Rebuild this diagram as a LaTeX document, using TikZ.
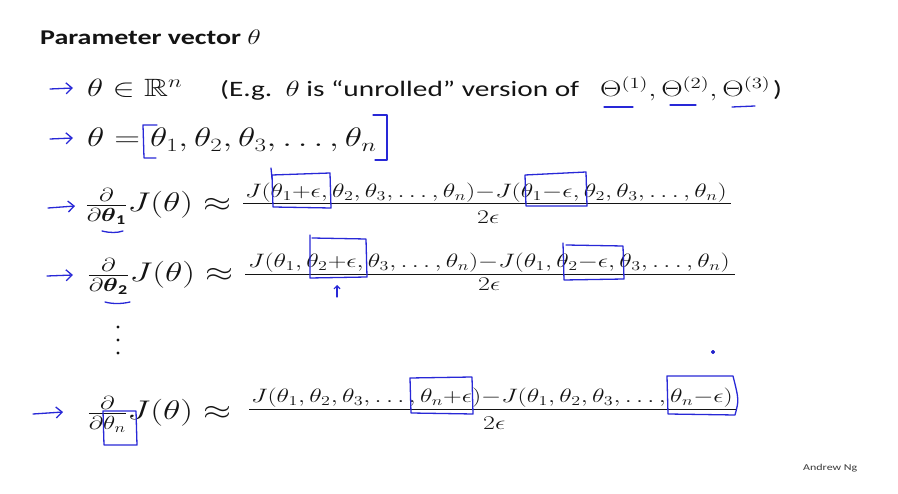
\RequirePackage{fix-cm}
\documentclass[tikz,border=0pt]{standalone}
\usepackage{amsmath,amssymb}
\usepackage{graphicx}
\usepackage{fontspec}
\setmainfont{Carlito}
\usetikzlibrary{arrows.meta}
\definecolor{pen}{RGB}{40,40,215}
\definecolor{ink}{RGB}{20,20,20}
\newcommand\hstretch[1]{\scalebox{1.333}[1]{#1}}
\begin{document}
\begin{tikzpicture}[x=1pt,y=-1pt,
  txt/.style={inner sep=0pt, anchor=base west, text=ink},
  big/.style={font=\fontsize{27}{32}\selectfont},
  mid/.style={font=\fontsize{25}{30}\selectfont},
  sans/.style={font=\fontsize{22}{26}\selectfont},
  num/.style={font=\fontsize{19.4}{22}\selectfont},
  pen/.style={draw=pen, line width=1.3pt, line cap=round, line join=round},
  harrow/.style={pen, -{Straight Barb[length=6pt,width=11pt,line width=1.3pt]}},
  bar/.style={draw=ink, line width=0.9pt}]
\useasboundingbox (0,0) rectangle (898,494);
\fill[white] (0,0) rectangle (898,494);

% title
\node[txt, font=\fontsize{21}{25}\selectfont\bfseries] (title) at (40,45) {\hstretch{Parameter vector $\theta$}};

% row 2
\node[txt, mid] (r2a) at (87,97) {\hstretch{$\theta\in\mathbb{R}^n$}};
\node[txt, sans] (r2b) at (220,97) {\hstretch{(E.g.\ \ $\theta$ is “unrolled” version of}};
\node[txt, font=\fontsize{22.3}{26}\selectfont] (r2c) at (600,97) {\hstretch{$\Theta^{(1)},\Theta^{(2)},\Theta^{(3)}$}};
\node[txt, sans] (r2d) at (773,97) {\hstretch{)}};

% row 3
\node[txt, font=\fontsize{26.8}{30}\selectfont] (r3) at (87,147) {\hstretch{$\theta=\theta_1,\theta_2,\theta_3,\ldots,\theta_n$}};

% row 4
\node[txt, big] (r4l) at (85,212) {\hstretch{$\frac{\partial}{\partial\boldsymbol{\theta}_{\mathbf 1}}J(\theta)\approx$}};
\node[txt, num] (r4n) at (245,198) {\hstretch{$J(\theta_1{+}\epsilon,\theta_2,\theta_3,\ldots,\theta_n){-}J(\theta_1{-}\epsilon,\theta_2,\theta_3,\ldots,\theta_n)$}};
\coordinate (r4a) at (243,203);
\coordinate (r4b) at (731,203);
\draw[bar] (r4a) -- (r4b);
\node[txt, num] (r4d) at (477,224) {\hstretch{$2\epsilon$}};

% row 5
\node[txt, big] (r5l) at (87,282) {\hstretch{$\frac{\partial}{\partial\boldsymbol{\theta}_{\mathbf 2}}J(\theta)\approx$}};
\node[txt, num] (r5n) at (248,268) {\hstretch{$J(\theta_1,\theta_2{+}\epsilon,\theta_3,\ldots,\theta_n){-}J(\theta_1,\theta_2{-}\epsilon,\theta_3,\ldots,\theta_n)$}};
\coordinate (r5a) at (245,274);
\coordinate (r5b) at (735,274);
\draw[bar] (r5a) -- (r5b);
\node[txt, num] (r5d) at (478,291) {\hstretch{$2\epsilon$}};

% vertical dots
\foreach \yy in {327,340,353}
  \fill[ink] (118,\yy) circle[radius=1.7];

% row 6
\node[txt, big] (r6l) at (87,420) {\hstretch{$\frac{\partial}{\partial\theta_n}J(\theta)\approx$}};
\node[txt, num] (r6n) at (251,403) {\hstretch{$J(\theta_1,\theta_2,\theta_3,\ldots,\theta_n{+}\epsilon){-}J(\theta_1,\theta_2,\theta_3,\ldots,\theta_n{-}\epsilon)$}};
\coordinate (r6a) at (249,409);
\coordinate (r6b) at (737,409);
\draw[bar] (r6a) -- (r6b);
\node[txt, num] (r6d) at (483,430) {\hstretch{$2\epsilon$}};

% footer
\node[txt, font=\fontsize{9}{11}\selectfont, text=ink!85] (ng) at (803,471) {\hstretch{Andrew Ng}};

% ---- blue pen annotations ----
\draw[harrow] (50,89) -- (73,88);
\draw[harrow] (50,139) -- (73,138);
\draw[harrow] (48,208) -- (75,206);
\draw[harrow] (47,276) -- (73,275);
\draw[harrow] (33,414) -- (63,412);

% underlines of Theta
\draw[pen] (604,107) -- (633,107);
\draw[pen] (670,105) -- (696,105);
\draw[pen] (732,107) -- (755,106);

% brackets
\draw[pen] (157,125) -- (143,125) -- (144,158) -- (156,158);
\draw[pen] (373,115) -- (387,115) -- (387,160) -- (375,160);

% row 4 boxes and underline
\draw[pen] (272,175) -- (330,173) -- (331,208) -- (273,207) -- cycle;
\draw[pen] (271,168) -- (272,178);
\draw[pen] (525,175) -- (586,172) -- (587,206) -- (526,206) -- cycle;
\draw[pen] (102,231) .. controls (110,233) and (117,233) .. (123,231);

% row 5 boxes, arrow, underline
\draw[pen] (310,235) -- (310,278) -- (367,277) -- (366,239) -- (312,238);
\draw[pen] (563,243) -- (564,280) -- (624,279) -- (623,246) -- (566,245);
\draw[pen, -{Straight Barb[length=3pt,width=6pt,line width=1.2pt]}] (337,297) -- (337,285);
\draw[pen] (105,302) .. controls (112,304) and (122,304) .. (130,302);

% row 6 boxes
\draw[pen] (410,378) -- (411,413) -- (473,414) -- (472,377) -- cycle;
\draw[pen] (667,376) -- (668,414) -- (735,415) .. controls (739,400) .. (733,376) -- cycle;
\draw[pen] (103,411) -- (104,445) -- (137,445) -- (136,411) -- cycle;

% stray dot
\fill[pen] (713,352) circle[radius=1.5];
\end{tikzpicture}
\end{document}
